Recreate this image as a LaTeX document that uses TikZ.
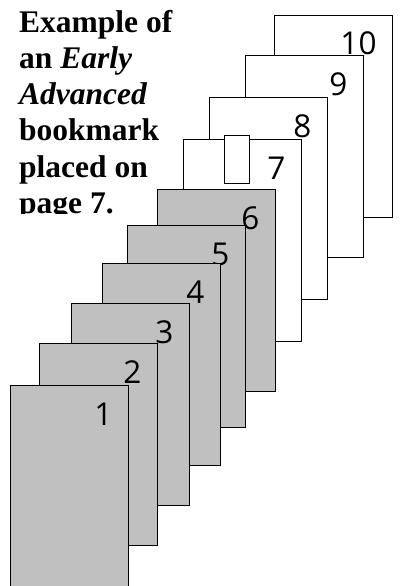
\documentclass[tikz,border=0pt]{standalone}
\usepackage{fontspec}
\setmainfont{Liberation Serif}
\newfontfamily\digitfont{Open Sans}
\definecolor{pagegrey}{HTML}{C0C0C0}
\begin{document}
\begin{tikzpicture}[
	x=1pt, y=-1pt,
	whitepage/.style={ rectangle, draw, line width=1.2pt, fill=white, minimum width=117.5pt, minimum height=202pt, anchor=north west, inner sep=0pt },
	greypage/.style={ whitepage, fill=pagegrey },
	pagenumber/.style={ anchor=base east, inner sep=0pt, font=\digitfont\fontsize{31.5}{31.5}\selectfont },
	bookmarktab/.style={ rectangle, draw, line width=1.2pt, fill=white, minimum width=25pt, minimum height=48pt, anchor=north west, inner sep=0pt }
]
	\useasboundingbox (0,0) rectangle (400,586);
	\clip (0,0) rectangle (400,586);

	\begin{scope}
		\clip (0,0) rectangle (200,213);
		\node[anchor=north west, align=left, inner sep=0pt, font=\bfseries\fontsize{31.5}{36.2}\selectfont] (caption) at (19,10)
			{Example of\\an \textit{Early}\\\textit{Advanced}\\bookmark\\placed on\\page 7.};
	\end{scope}

	\foreach \n/\x/\y in {10/274/15, 9/245/55, 8/209/97, 7/183/139} {
		\node[whitepage] (p\n) at (\x,\y) {};
		\node[pagenumber] (n\n) at ([xshift=-16pt,yshift=-40pt]p\n.north east) {\n};
	}
	\node[bookmarktab] (tab) at (224,135) {};
	\foreach \n/\x/\y in {6/157/189, 5/127/225, 4/102/263, 3/71/303, 2/39/343, 1/10/385} {
		\node[greypage] (p\n) at (\x,\y) {};
		\node[pagenumber] (n\n) at ([xshift=-16pt,yshift=-40pt]p\n.north east) {\n};
	}

\end{tikzpicture}
\end{document}
